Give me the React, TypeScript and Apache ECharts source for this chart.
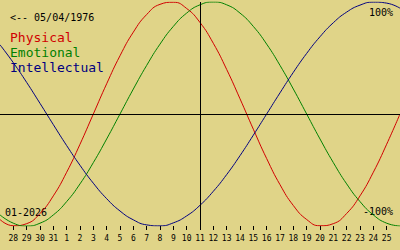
import React, { useEffect, useRef } from "react";
import * as echarts from "echarts";

// Day labels for ticks at positions 1..29 (position 0 and 30 are the edges)
const dayLabels = ["28", "29", "30", "31", "1", "2", "3", "4", "5", "6", "7", "8", "9", "10", "11", "12", "13", "14", "15", "16", "17", "18", "19", "20", "21", "22", "23", "24", "25"];
const todayIndex = 15;

// Values in percent at day positions 0..30
const physical = [-94.2, -99.8, -97.9, -88.8, -73.1, -52.0, -27.0, 0, 27.0, 52.0, 73.1, 88.8, 97.9, 99.8, 94.2, 81.7, 63.1, 39.8, 13.6, -13.6, -39.8, -63.1, -81.7, -94.2, -99.8, -97.9, -88.8, -73.1, -52.0, -27.0, 0];
const emotional = [-90.1, -97.5, -100, -97.5, -90.1, -78.2, -62.4, -43.4, -22.3, 0, 22.3, 43.4, 62.4, 78.2, 90.1, 97.5, 100, 97.5, 90.1, 78.2, 62.4, 43.4, 22.3, 0, -22.3, -43.4, -62.4, -78.2, -90.1, -97.5, -100];
const intellectual = [61.8, 45.8, 28.2, 9.5, -9.5, -28.2, -45.8, -61.8, -75.6, -86.6, -94.5, -99.0, -99.9, -97.2, -91.0, -81.5, -69.0, -54.1, -37.2, -18.9, 0, 18.9, 37.2, 54.1, 69.0, 81.5, 91.0, 97.2, 99.9, 99.0, 94.5];

const tickPositions = dayLabels.map((_, i) => i + 1);
const toPairs = (arr: number[]) => arr.map((v, i) => [i, v]);

const MONO = "DejaVu Sans Mono";

export default function App() {
  const ref = useRef<HTMLDivElement>(null);
  useEffect(() => {
    if (!ref.current) return;
    const chart = echarts.init(ref.current, null, { renderer: "svg" });
    chart.setOption({
      animation: false,
      backgroundColor: "rgb(224,212,136)",
      grid: { left: 0, right: 0, top: 2, bottom: 24 },
      xAxis: {
        type: "value",
        min: 0,
        max: 30,
        interval: 1,
        splitLine: { show: false },
        axisLine: { show: false, onZero: false },
        axisTick: {
          show: true,
          length: 4,
          customValues: tickPositions,
          lineStyle: { color: "#000", width: 1 },
        },
        axisLabel: {
          show: true,
          customValues: tickPositions,
          margin: 8,
          fontFamily: MONO,
          fontSize: 8,
          color: "#000",
          formatter: (v: number) => dayLabels[v - 1] ?? "",
        },
      },
      yAxis: {
        type: "value",
        min: -100,
        max: 100,
        show: false,
        splitLine: { show: false },
      },
      series: [
        {
          type: "line",
          name: "Physical",
          data: toPairs(physical),
          smooth: true,
          showSymbol: false,
          lineStyle: { color: "#d00000", width: 1 },
          markLine: {
            silent: true,
            symbol: "none",
            label: { show: false },
            lineStyle: { color: "#000", width: 1, type: "solid" },
            data: [{ yAxis: 0 }, { xAxis: todayIndex }],
          },
        },
        {
          type: "line",
          name: "Emotional",
          data: toPairs(emotional),
          smooth: true,
          showSymbol: false,
          lineStyle: { color: "#008000", width: 1 },
        },
        {
          type: "line",
          name: "Intellectual",
          data: toPairs(intellectual),
          smooth: true,
          showSymbol: false,
          lineStyle: { color: "#000080", width: 1 },
        },
      ],
      graphic: [
        { type: "text", left: 10, top: 12, style: { text: "<-- 05/04/1976", fontFamily: MONO, fontSize: 10, fill: "#000" } },
        { type: "text", left: 10, top: 31, style: { text: "Physical", fontFamily: MONO, fontSize: 13, fill: "#d00000" } },
        { type: "text", left: 10, top: 46, style: { text: "Emotional", fontFamily: MONO, fontSize: 13, fill: "#008000" } },
        { type: "text", left: 10, top: 61, style: { text: "Intellectual", fontFamily: MONO, fontSize: 13, fill: "#000080" } },
        { type: "text", right: 7, top: 7, style: { text: "100%", fontFamily: MONO, fontSize: 10, fill: "#000" } },
        { type: "text", right: 7, top: 206, style: { text: "-100%", fontFamily: MONO, fontSize: 10, fill: "#000" } },
        { type: "text", left: 5, top: 207, style: { text: "01-2026", fontFamily: MONO, fontSize: 10, fill: "#000" } },
      ],
    });
    return () => chart.dispose();
  }, []);
  return <div ref={ref} style={{ position: "absolute", left: 0, top: 0, width: 400, height: 250 }} />;
}
